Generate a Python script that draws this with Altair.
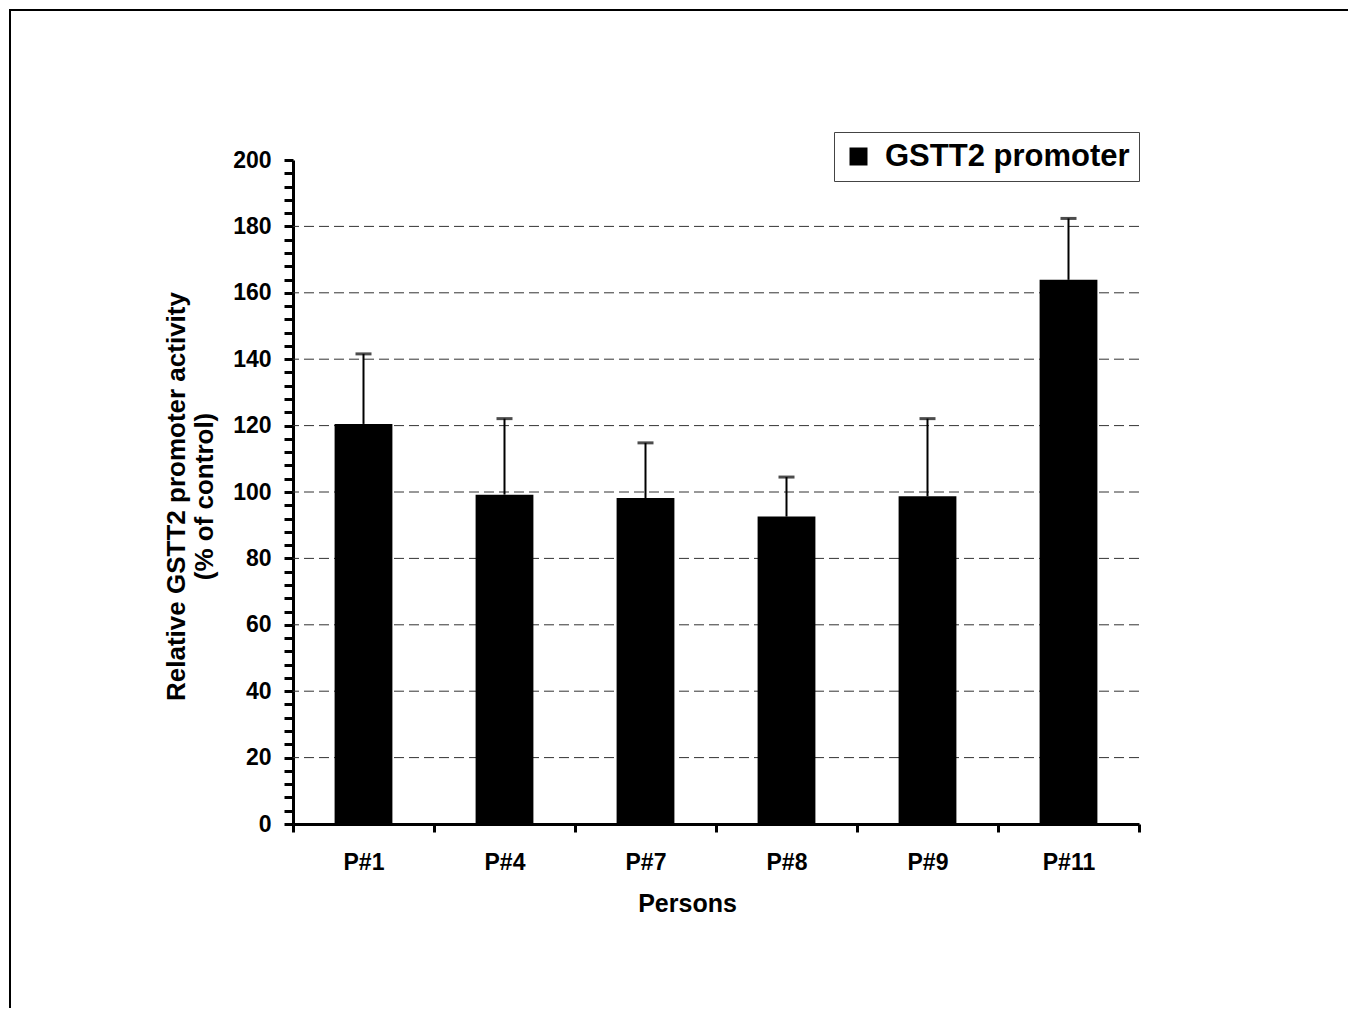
import altair as alt
import pandas as pd

persons = ["P#1", "P#4", "P#7", "P#8", "P#9", "P#11"]
activity = [120.5, 99.2, 98.2, 92.6, 98.7, 163.9]
error = [21.1, 22.9, 16.6, 11.9, 23.4, 18.5]
series = ["GSTT2 promoter"] * len(persons)
grid_values = [20, 40, 60, 80, 100, 120, 140, 160, 180]
y_tick_values = list(range(0, 201, 4))

FONT = "Liberation Sans"

df = pd.DataFrame({"person": persons, "value": activity, "err": error, "series": series})
df["upper"] = df["value"] + df["err"]
grid_df = pd.DataFrame({"g": grid_values})
frame_df = pd.DataFrame({"f": [0]})

x_enc = alt.X(
    "person:N",
    sort=persons,
    scale=alt.Scale(paddingInner=0, paddingOuter=0),
    axis=alt.Axis(
        title="Persons",
        titleFont=FONT, titleFontSize=25, titleFontWeight="bold", titleColor="black",
        titleX=394, titleY=87, titleBaseline="alphabetic", titleAlign="center",
        labelFont=FONT, labelFontSize=23, labelFontWeight="bold", labelColor="black",
        labelAngle=0, labelPadding=19,
        tickBand="extent", tickSize=8, tickWidth=3, tickColor="black",
        domainColor="black", domainWidth=3, grid=False,
    ),
)

y_scale = alt.Scale(domain=[0, 200], nice=False)
y_axis = alt.Axis(
    title=["Relative GSTT2 promoter activity", "(% of control)"],
    titleFont=FONT, titleFontSize=26, titleFontWeight="bold", titleColor="black",
    titleX=-109, titleY=336, titleAngle=-90, titleAlign="center",
    titleBaseline="alphabetic", titleLineHeight=28,
    values=y_tick_values, tickCount=len(y_tick_values),
    labelExpr="datum.value % 20 == 0 ? datum.label : ''",
    labelOverlap=False,
    labelFont=FONT, labelFontSize=23, labelFontWeight="bold", labelColor="black",
    labelPadding=13,
    tickSize=9, tickWidth=3, tickColor="black",
    domainColor="black", domainWidth=3, grid=False,
)

frame = alt.Chart(frame_df).mark_rect(fillOpacity=0, stroke="black", strokeWidth=2).encode(
    x=alt.value(-283), x2=alt.value(3000), y=alt.value(-150), y2=alt.value(3000)
)

grid = alt.Chart(grid_df).mark_rule(color="#333333", strokeWidth=1, strokeDash=[10, 5]).encode(
    y=alt.Y("g:Q", scale=y_scale, axis=y_axis)
)

bars = alt.Chart(df).mark_bar(width=alt.RelativeBandSize(0.41)).encode(
    x=x_enc,
    y=alt.Y("value:Q", scale=y_scale, axis=y_axis),
    color=alt.Color(
        "series:N",
        scale=alt.Scale(domain=["GSTT2 promoter"], range=["black"]),
        legend=alt.Legend(
            title=None, orient="none", legendX=541, legendY=-28,
            symbolType="square", symbolSize=324, symbolStrokeWidth=0,
            labelFont=FONT, labelFontSize=31, labelFontWeight="bold", labelColor="black",
            labelOffset=11, labelLimit=500, padding=9, strokeColor="#444444",
        ),
    ),
)

err_rule = alt.Chart(df).mark_rule(color="black", strokeWidth=2).encode(
    x=alt.X("person:N", sort=persons),
    y=alt.Y("value:Q", scale=y_scale),
    y2="upper:Q",
)

err_cap = alt.Chart(df).mark_tick(color="black", size=16, thickness=3).encode(
    x=alt.X("person:N", sort=persons),
    y=alt.Y("upper:Q", scale=y_scale),
)

chart = alt.layer(frame, grid, bars, err_rule, err_cap).properties(
    width=846,
    height=664,
    padding={"left": 285, "top": 152, "right": 209, "bottom": 184},
    autosize=alt.AutoSizeParams(type="none"),
    background="white",
).configure_view(stroke=None)

chart.save("out.html", embed_options={"renderer": "svg", "actions": False})
